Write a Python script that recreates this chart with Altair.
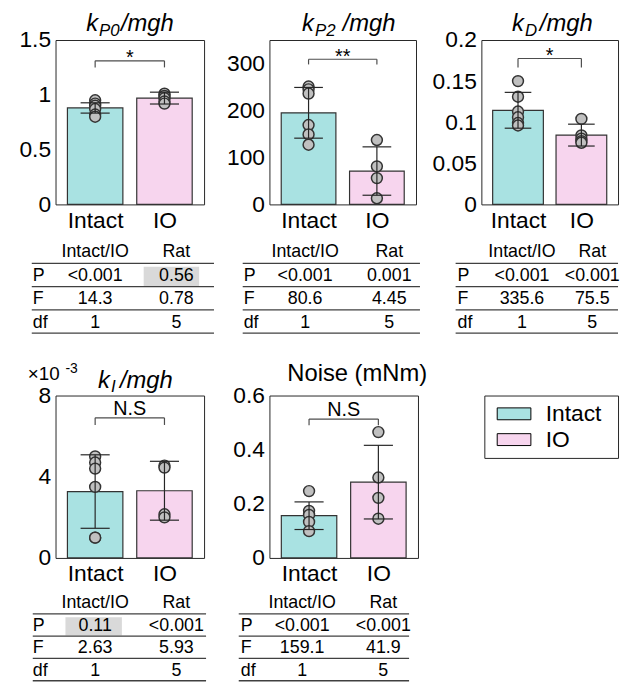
import altair as alt
import pandas as pd

FONT = "Liberation Sans"
groups = ["Intact", "IO"]
group_colors = ["#a9e2e2", "#f7d5ee"]

# ---------------- panel values ----------------
kp0_mean = [0.88, 0.97]
kp0_sd = [0.047, 0.054]
kp0_intact = [0.95, 0.92, 0.90, 0.87, 0.82, 0.80]
kp0_io = [1.01, 0.99, 0.97, 0.94, 0.92]
kp0_ticks = [0, 0.5, 1, 1.5]
kp0_ymax = 1.5
kp0_bracket = [1.31, 1.25]
kp0_sig = "*"

kp2_mean = [195, 71]
kp2_sd = [54, 51.5]
kp2_intact = [251, 245, 236, 169, 149, 127]
kp2_io = [137, 81, 56, 13]
kp2_ticks = [0, 100, 200, 300]
kp2_ymax = 350
kp2_bracket = [309, 298]
kp2_sig = "**"

kd_mean = [0.1145, 0.0843]
kd_sd = [0.0218, 0.0133]
kd_intact = [0.150, 0.131, 0.113, 0.106, 0.099, 0.096]
kd_io = [0.104, 0.084, 0.080, 0.077, 0.075]
kd_ticks = [0, 0.05, 0.1, 0.15, 0.2]
kd_ymax = 0.2
kd_bracket = [0.1775, 0.1665]
kd_sig = "*"

ki_mean = [3.27, 3.31]
ki_sd = [1.81, 1.45]
ki_intact = [5.0, 4.7, 4.4, 3.5, 1.0, 1.0]
ki_io = [4.55, 4.45, 2.15, 2.0]
ki_ticks = [0, 4, 8]
ki_ymax = 8
ki_bracket = [6.9, 6.55]
ki_sig = "N.S"

noise_mean = [0.156, 0.280]
noise_sd = [0.051, 0.136]
noise_intact = [0.247, 0.174, 0.159, 0.133, 0.099]
noise_io = [0.465, 0.297, 0.222, 0.145]
noise_ticks = [0, 0.2, 0.4, 0.6]
noise_ymax = 0.6
noise_bracket = [0.513, 0.49]
noise_sig = "N.S"

# ---------------- statistics tables ----------------
table_cols = ["Intact/IO", "Rat"]
table_rows = ["P", "F", "df"]
kp0_P = ["<0.001", "0.56"]
kp0_F = ["14.3", "0.78"]
kp0_df = ["1", "5"]
kp2_P = ["<0.001", "0.001"]
kp2_F = ["80.6", "4.45"]
kp2_df = ["1", "5"]
kd_P = ["<0.001", "<0.001"]
kd_F = ["335.6", "75.5"]
kd_df = ["1", "5"]
ki_P = ["0.11", "<0.001"]
ki_F = ["2.63", "5.93"]
ki_df = ["1", "5"]
noise_P = ["<0.001", "<0.001"]
noise_F = ["159.1", "41.9"]
noise_df = ["1", "5"]

# ---------------- titles (text, x, y, size, style) ----------------
kp0_title = [("k", 31, -9, 24, "italic"), ("P0", 44, -4, 17, "italic"), ("/mgh", 66, -9, 24, "italic")]
kp2_title = [("k", 33, -9, 24, "italic"), ("P2", 46, -4, 17, "italic"), ("/mgh", 74, -9, 24, "italic")]
kd_title = [("k", 31, -9, 24, "italic"), ("D", 44, -4, 17, "italic"), ("/mgh", 59, -9, 24, "italic")]
ki_title = [("\u00d710", -28, -16, 19, "normal"), ("-3", 10, -23, 14, "normal"),
            ("k", 43, -8, 24, "italic"), ("I", 56, -4, 17, "italic"), ("/mgh", 65, -8, 24, "italic")]
noise_title = [("Noise (mNm)", 18, -15, 24, "normal")]

dummy = pd.DataFrame({"d": [0]})


def bar_panel(mean, sd, pts_a, pts_b, ymax, ticks, bracket, sig, sig_dy, titles, width, height, ext):
    bars = pd.DataFrame({"group": groups, "idx": [0, 1], "mean": mean, "sd": sd})
    bars["x0"] = bars["idx"] - 0.4
    bars["x1"] = bars["idx"] + 0.4
    bars["base"] = 0.0
    bars["lo"] = bars["mean"] - bars["sd"]
    bars["hi"] = bars["mean"] + bars["sd"]
    caps = pd.concat([
        pd.DataFrame({"cl": bars["idx"] - 0.21, "cr": bars["idx"] + 0.21, "cy": bars["lo"]}),
        pd.DataFrame({"cl": bars["idx"] - 0.21, "cr": bars["idx"] + 0.21, "cy": bars["hi"]}),
    ])
    pts = pd.DataFrame({"idx": [0] * len(pts_a) + [1] * len(pts_b),
                        "val": list(pts_a) + list(pts_b)})
    br = pd.DataFrame({"idx": [0, 1], "lvl": [bracket[0]] * 2, "foot": [bracket[1]] * 2})
    brh = pd.DataFrame({"a": [0], "b": [1], "lvl": [bracket[0]], "mid": [0.5], "sig": [sig]})

    xs = alt.Scale(domain=[-0.5, 1.5], nice=False, zero=False)
    ys = alt.Scale(domain=[0, ymax], nice=False)
    label_expr = f"datum.value == 0 ? '{groups[0]}' : '{groups[1]}'"
    xax = alt.Axis(values=[0, 1], labelExpr=label_expr, title=None, ticks=False, domain=False,
                   grid=False, labelFontSize=23, labelPadding=5, labelColor="black",
                   labelFont=FONT, labelFlush=False, labelOverlap=False)
    yax = alt.Axis(values=ticks, format="~r", title=None, ticks=False, domain=False, grid=False,
                   labelFontSize=23, labelPadding=5, labelColor="black", labelFont=FONT,
                   minExtent=ext, maxExtent=ext, labelFlush=False, labelOverlap=False)

    def X(f):
        return alt.X(f, scale=xs, axis=xax)

    def Y(f):
        return alt.Y(f, scale=ys, axis=yax)

    bar = alt.Chart(bars).mark_bar(orient="vertical", stroke="#333333", strokeWidth=1.2).encode(
        x=X("x0:Q"), x2="x1:Q", y=Y("mean:Q"), y2="base:Q",
        color=alt.Color("group:N", scale=alt.Scale(domain=groups, range=group_colors), legend=None))
    dots = alt.Chart(pts).mark_circle(size=121, fill="#c0c0c0", stroke="#333333", strokeWidth=1.5,
                                      opacity=1).encode(x=X("idx:Q"), y=Y("val:Q"))
    err = alt.Chart(bars).mark_rule(color="#262626", strokeWidth=1.2).encode(
        x=X("idx:Q"), y=Y("lo:Q"), y2="hi:Q")
    cap = alt.Chart(caps).mark_rule(color="#262626", strokeWidth=1.2).encode(
        x=X("cl:Q"), x2="cr:Q", y=Y("cy:Q"))
    legs = alt.Chart(br).mark_rule(color="#4d4d4d", strokeWidth=1.2).encode(
        x=X("idx:Q"), y=Y("lvl:Q"), y2="foot:Q")
    top = alt.Chart(brh).mark_rule(color="#4d4d4d", strokeWidth=1.2).encode(
        x=X("a:Q"), x2="b:Q", y=Y("lvl:Q"))
    star = alt.Chart(brh).mark_text(fontSize=20, font=FONT, baseline="alphabetic", dy=sig_dy,
                                    color="black").encode(x=X("mid:Q"), y=Y("lvl:Q"), text="sig:N")
    layers = [bar, dots, err, cap, legs, top, star]
    for (txt, px, py, size, style) in titles:
        layers.append(
            alt.Chart(dummy).mark_text(text=txt, align="left", baseline="alphabetic", fontSize=size,
                                       fontStyle=style, font=FONT, color="black")
            .encode(x=alt.value(px), y=alt.value(py)))
    return alt.layer(*layers).properties(width=width, height=height)


def stat_table(P, F, DF, width, height, pos, hl):
    lab_x, c1, c2, ll, lr = pos
    row_y = [0.5, 1.55, 2.55, 3.55]
    cells = pd.DataFrame({
        "x": [c1, c2] * 4,
        "y": [row_y[0]] * 2 + [row_y[1]] * 2 + [row_y[2]] * 2 + [row_y[3]] * 2,
        "t": table_cols + list(P) + list(F) + list(DF)})
    labs = pd.DataFrame({"x": [lab_x] * 3, "y": row_y[1:], "t": table_rows})
    lines = pd.DataFrame({"x1": [ll] * 4, "x2": [lr] * 4, "y": [1, 2, 3, 4]})
    xs = alt.Scale(domain=[0, width], nice=False, zero=False)
    ys = alt.Scale(domain=[0, 4], nice=False, zero=False, reverse=True)

    def X(f):
        return alt.X(f, scale=xs, axis=None)

    def Y(f):
        return alt.Y(f, scale=ys, axis=None)

    layers = []
    if hl:
        hdf = pd.DataFrame({"x1": [hl[0]], "x2": [hl[1]], "y1": [1.15], "y2": [1.97]})
        layers.append(alt.Chart(hdf).mark_rect(color="#d9d9d9").encode(
            x=X("x1:Q"), x2="x2:Q", y=Y("y1:Q"), y2="y2:Q"))
    layers.append(alt.Chart(lines).mark_rule(color="#404040", strokeWidth=1.3).encode(
        x=X("x1:Q"), x2="x2:Q", y=Y("y:Q")))
    layers.append(alt.Chart(cells).mark_text(fontSize=18, font=FONT, align="center",
                                             baseline="middle", color="black").encode(
        x=X("x:Q"), y=Y("y:Q"), text="t:N"))
    layers.append(alt.Chart(labs).mark_text(fontSize=18, font=FONT, align="left",
                                            baseline="middle", color="black").encode(
        x=X("x:Q"), y=Y("y:Q"), text="t:N"))
    return alt.layer(*layers).properties(width=width, height=height,
                                         view=alt.ViewBackground(stroke="transparent"))


STAR_DY = 3.5
NS_DY = -3

p1 = bar_panel(kp0_mean, kp0_sd, kp0_intact, kp0_io, kp0_ymax, kp0_ticks, kp0_bracket, kp0_sig,
               STAR_DY, kp0_title, 150, 166, 47)
t1 = stat_table(kp0_P, kp0_F, kp0_df, 150, 94, (-23, 40, 122, -24, 160), (89, 145))
p2 = bar_panel(kp2_mean, kp2_sd, kp2_intact, kp2_io, kp2_ymax, kp2_ticks, kp2_bracket, kp2_sig,
               STAR_DY, kp2_title, 148, 166, 45)
t2 = stat_table(kp2_P, kp2_F, kp2_df, 148, 94, (-26, 36, 121, -27, 152), None)
p3 = bar_panel(kd_mean, kd_sd, kd_intact, kd_io, kd_ymax, kd_ticks, kd_bracket, kd_sig,
               STAR_DY, kd_title, 138, 166, 51)
t3 = stat_table(kd_P, kd_F, kd_df, 138, 94, (-24, 41, 112, -26, 138), None)

p4 = bar_panel(ki_mean, ki_sd, ki_intact, ki_io, ki_ymax, ki_ticks, ki_bracket, ki_sig,
               NS_DY, ki_title, 150, 164, 47)
t4 = stat_table(ki_P, ki_F, ki_df, 150, 90, (-23, 40, 122, -23, 152), (10, 67))
p5 = bar_panel(noise_mean, noise_sd, noise_intact, noise_io, noise_ymax, noise_ticks,
               noise_bracket, noise_sig, NS_DY, noise_title, 150, 164, 53)
t5 = stat_table(noise_P, noise_F, noise_df, 150, 90, (-29, 33, 115, -31, 141), None)

# legend panel
leg_df = pd.DataFrame({"group": groups})
ly = alt.Y("group:N", sort=groups,
           scale=alt.Scale(type="point", domain=groups, padding=0.71),
           axis=alt.Axis(labels=False, ticks=False, domain=False, grid=False, title=None,
                         minExtent=48, maxExtent=48))
sw = alt.Chart(leg_df).mark_point(shape="M-1,-0.353H1V0.353H-1Z", size=1156, filled=True,
                                  stroke="#000000", strokeWidth=1, opacity=1).encode(
    x=alt.value(30), y=ly,
    color=alt.Color("group:N", scale=alt.Scale(domain=groups, range=group_colors), legend=None))
lt = alt.Chart(leg_df).mark_text(align="left", baseline="middle", fontSize=23, font=FONT,
                                 color="black").encode(x=alt.value(62), y=ly, text="group:N")
legend = alt.layer(sw, lt).properties(width=135, height=63)

col1 = alt.vconcat(p1, t1, spacing=6)
col2 = alt.vconcat(p2, t2, spacing=6)
col3 = alt.vconcat(p3, t3, spacing=6)
col4 = alt.vconcat(p4, t4, spacing=4)
col5 = alt.vconcat(p5, t5, spacing=4)

row1 = alt.hconcat(col1, col2, col3, spacing=8)
row2 = alt.hconcat(col4, col5, legend, spacing=8)

chart = (
    alt.vconcat(row1, row2, spacing=26)
    .properties(padding=0)
    .configure(font=FONT)
    .configure_view(stroke="#262626", strokeWidth=1)
)

chart.save("out.html", embed_options={"renderer": "svg", "actions": False})
